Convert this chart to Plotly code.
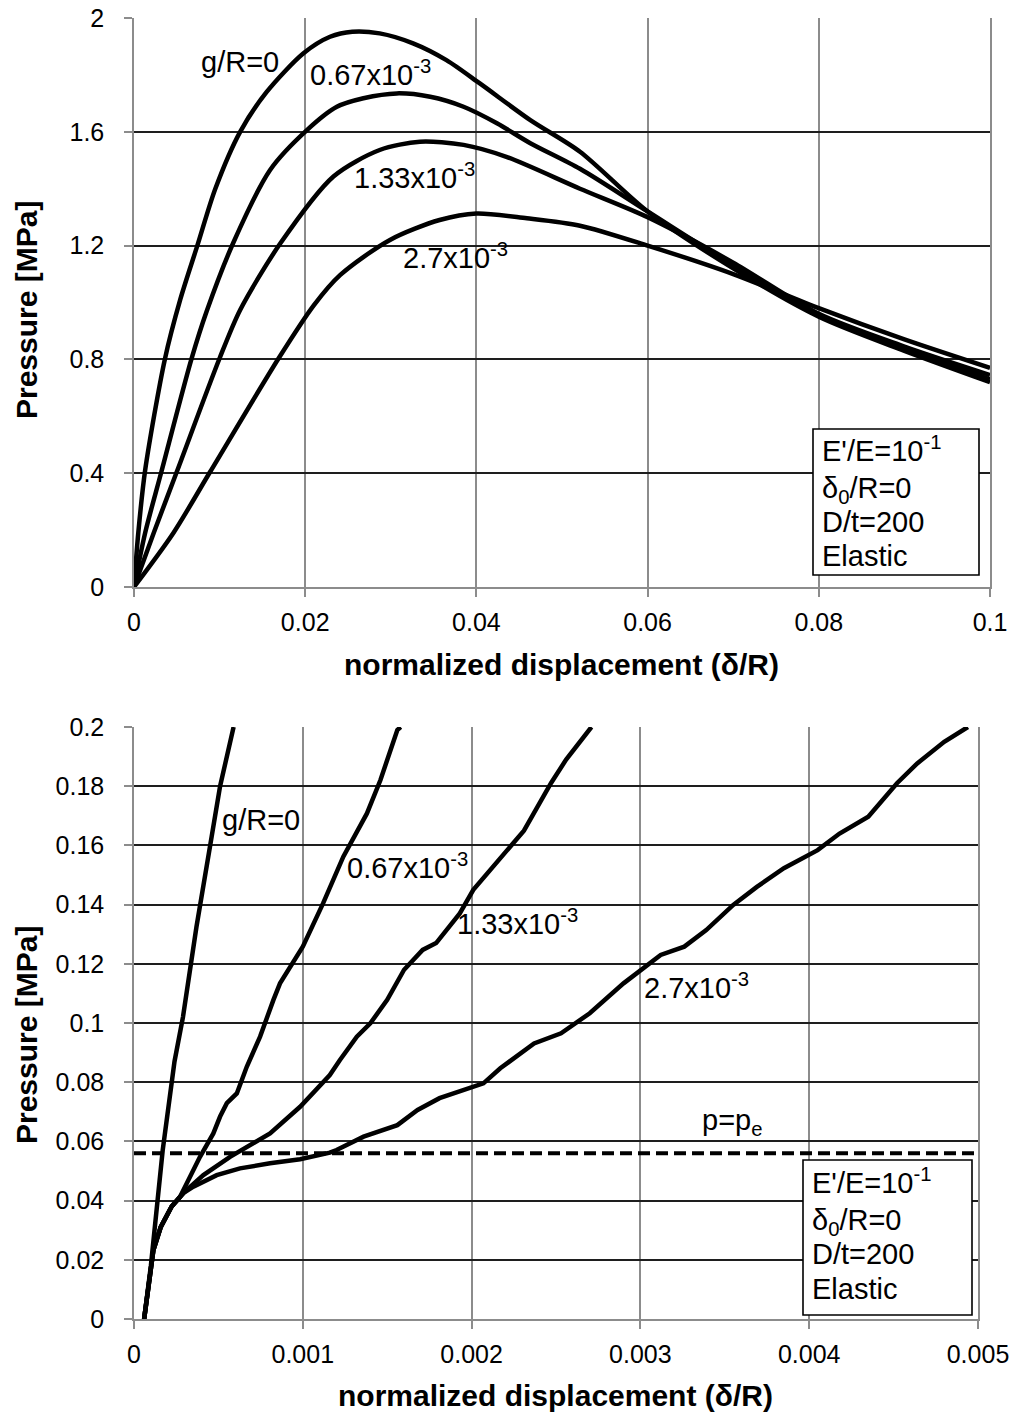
import plotly.graph_objects as go

# ---------------- data: top chart (0 .. 0.1) ----------------
top_g0_x = [0, 0.0005, 0.0013, 0.0036, 0.0054, 0.0074, 0.0095, 0.0124, 0.0155, 0.0198, 0.0229, 0.0255,
            0.0287, 0.0326, 0.0365, 0.0404, 0.0463, 0.0521, 0.060, 0.070, 0.080, 0.090, 0.100]
top_g0_y = [0, 0.19, 0.41, 0.80, 1.01, 1.20, 1.40, 1.60, 1.74, 1.876, 1.934, 1.952,
            1.946, 1.911, 1.852, 1.77, 1.641, 1.53, 1.32, 1.12, 0.95, 0.83, 0.72]

top_067_x = [0, 0.0013, 0.0032, 0.0067, 0.0085, 0.0116, 0.0159, 0.0202, 0.0237, 0.0268, 0.0307,
             0.0346, 0.0385, 0.0424, 0.0463, 0.0521, 0.060, 0.070, 0.080, 0.090, 0.100]
top_067_y = [0, 0.19, 0.405, 0.80, 0.97, 1.21, 1.466, 1.606, 1.688, 1.718, 1.735,
             1.723, 1.688, 1.63, 1.56, 1.47, 1.32, 1.13, 0.955, 0.84, 0.73]

top_133_x = [0, 0.0023, 0.0050, 0.0100, 0.0124, 0.0171, 0.0233, 0.0287, 0.0334, 0.0385, 0.0435,
             0.0521, 0.060, 0.070, 0.080, 0.090, 0.100]
top_133_y = [0, 0.19, 0.405, 0.804, 0.974, 1.208, 1.443, 1.536, 1.565, 1.554, 1.512,
             1.40, 1.30, 1.14, 0.96, 0.845, 0.745]

top_27_x = [0, 0.0046, 0.0089, 0.0169, 0.0210, 0.0241, 0.0299, 0.0357, 0.0400, 0.0459, 0.0521,
            0.060, 0.070, 0.080, 0.090, 0.100]
top_27_y = [0, 0.19, 0.405, 0.804, 0.99, 1.097, 1.22, 1.29, 1.313, 1.296, 1.27,
            1.20, 1.10, 0.98, 0.87, 0.77]

# ---------------- data: bottom chart (0 .. 0.005) ----------------
bot_g0_x = [0.00006, 0.00010, 0.00017, 0.00024, 0.00029, 0.00037, 0.00046, 0.00051, 0.00059]
bot_g0_y = [0.0, 0.018, 0.057, 0.087, 0.102, 0.1325, 0.163, 0.180, 0.200]

bot_067_x = [0.00006, 0.000085, 0.000115, 0.000158, 0.000223, 0.000273, 0.000391, 0.00047, 0.00051,
             0.00055, 0.000609, 0.000668, 0.000747, 0.000826, 0.000865, 0.0010, 0.00112, 0.00124,
             0.00138, 0.00146, 0.00156, 0.00158]
bot_067_y = [0, 0.012, 0.0233, 0.031, 0.038, 0.0413, 0.0548, 0.0627, 0.0684,
             0.0729, 0.0762, 0.0852, 0.0954, 0.1078, 0.1134, 0.1258, 0.1404, 0.1562,
             0.1708, 0.1821, 0.199, 0.2]

bot_133_x = [0.00006, 0.000085, 0.000115, 0.000158, 0.000223, 0.000292, 0.000411, 0.000569, 0.000806,
             0.000984, 0.00116, 0.00122, 0.00132, 0.0014, 0.0015, 0.0016, 0.00171, 0.00179, 0.00193,
             0.00201, 0.00231, 0.00247, 0.00256, 0.00271]
bot_133_y = [0, 0.012, 0.0233, 0.031, 0.038, 0.0425, 0.0486, 0.0548, 0.0627,
             0.0717, 0.0824, 0.0875, 0.0954, 0.0999, 0.1078, 0.118, 0.1247, 0.127, 0.137,
             0.145, 0.165, 0.181, 0.189, 0.2]

bot_27_x = [0.00006, 0.000085, 0.000115, 0.000158, 0.000223, 0.000292, 0.000352, 0.00049, 0.000628,
            0.000806, 0.000984, 0.00116, 0.0012, 0.00136, 0.00156, 0.00168, 0.00181, 0.00207,
            0.00217, 0.00237, 0.00253, 0.0027, 0.0029, 0.00312, 0.00326, 0.00339, 0.00355,
            0.00369, 0.00385, 0.00405, 0.00418, 0.00435, 0.00452, 0.00464, 0.0048, 0.00494]
bot_27_y = [0, 0.012, 0.0233, 0.031, 0.038, 0.0425, 0.0447, 0.0486, 0.0509,
            0.0526, 0.054, 0.0562, 0.0571, 0.0616, 0.0655, 0.0706, 0.0746, 0.0796,
            0.0847, 0.0931, 0.0965, 0.1033, 0.1134, 0.123, 0.1258, 0.1314, 0.1399,
            0.146, 0.1523, 0.1584, 0.164, 0.1697, 0.181, 0.1877, 0.195, 0.2]

p_e = 0.056
bot_x_span = [0, 0.005]

# ---------------- tick labels ----------------
top_x_ticks = [0, 0.02, 0.04, 0.06, 0.08, 0.1]
top_x_text = ["0", "0.02", "0.04", "0.06", "0.08", "0.1"]
top_y_ticks = [0, 0.4, 0.8, 1.2, 1.6, 2]
top_y_text = ["0", "0.4", "0.8", "1.2", "1.6", "2"]
bot_x_ticks = [0, 0.001, 0.002, 0.003, 0.004, 0.005]
bot_x_text = ["0", "0.001", "0.002", "0.003", "0.004", "0.005"]
bot_y_ticks = [0, 0.02, 0.04, 0.06, 0.08, 0.1, 0.12, 0.14, 0.16, 0.18, 0.2]
bot_y_text = ["0", "0.02", "0.04", "0.06", "0.08", "0.1", "0.12", "0.14", "0.16", "0.18", "0.2"]

top_labels = ["g/R=0", "0.67x10<sup>-3</sup>", "1.33x10<sup>-3</sup>", "2.7x10<sup>-3</sup>"]
top_label_x = [0.0124, 0.0276, 0.0328, 0.0375]
top_label_y = [1.846, 1.805, 1.445, 1.165]
bot_labels = ["g/R=0", "0.67x10<sup>-3</sup>", "1.33x10<sup>-3</sup>", "2.7x10<sup>-3</sup>"]
bot_label_x = [0.00051, 0.00125, 0.0019, 0.00301]
bot_label_y = [0.1686, 0.153, 0.134, 0.1125]
pe_label = "p=p<sub>e</sub>"
box_lines = ["E'/E=10<sup>-1</sup>", "δ<sub>0</sub>/R=0", "D/t=200", "Elastic"]

x_title = "<b>normalized displacement (δ/R)</b>"
y_title = "<b>Pressure [MPa]</b>"

FONT = "Liberation Sans, Arial, sans-serif"
OFF = 8                      # page body margin of the browser
FW, FH = 1018 - OFF, 1416 - OFF


def fx(px):
    return (px - OFF) / FW


def fy(py):
    return 1 - (py - OFF) / FH


fig = go.Figure()
line_top = dict(color="black", width=4.5, shape="spline", smoothing=0.8)
for xs, ys in [(top_g0_x, top_g0_y), (top_067_x, top_067_y), (top_133_x, top_133_y), (top_27_x, top_27_y)]:
    fig.add_trace(go.Scatter(x=xs, y=ys, mode="lines", line=line_top, xaxis="x", yaxis="y",
                             showlegend=False, hoverinfo="skip"))
line_bot = dict(color="black", width=4.5)
for xs, ys in [(bot_g0_x, bot_g0_y), (bot_067_x, bot_067_y), (bot_133_x, bot_133_y), (bot_27_x, bot_27_y)]:
    fig.add_trace(go.Scatter(x=xs, y=ys, mode="lines", line=line_bot, xaxis="x2", yaxis="y2",
                             showlegend=False, hoverinfo="skip"))
fig.add_trace(go.Scatter(x=bot_x_span, y=[p_e, p_e], mode="lines",
                         line=dict(color="black", width=3.8, dash="12px,6px"),
                         xaxis="x2", yaxis="y2", showlegend=False, hoverinfo="skip"))

GRAY = "#8c8c8c"
DARK = "#1e1e1e"
common = dict(showline=True, linecolor=GRAY, linewidth=1.5, ticks="outside", ticklen=8,
              tickcolor=GRAY, tickwidth=1.5, zeroline=False, showgrid=True, gridwidth=1.5,
              tickfont=dict(family=FONT, size=25, color="black"), fixedrange=True,
              automargin=False, tickmode="array", ticklabeloverflow="allow")

fig.update_layout(
    width=FW, height=FH, margin=dict(l=0, r=0, t=0, b=0, autoexpand=False),
    paper_bgcolor="white", plot_bgcolor="white",
    xaxis=dict(domain=[fx(134), fx(990)], range=[0, 0.1], tickvals=top_x_ticks, ticktext=top_x_text,
               gridcolor=GRAY, anchor="y", ticklabelstandoff=4, **common),
    yaxis=dict(domain=[fy(587), fy(18)], range=[0, 2], tickvals=top_y_ticks, ticktext=top_y_text,
               gridcolor=DARK, anchor="x", mirror=True, ticklabelstandoff=15, **common),
    xaxis2=dict(domain=[fx(134), fx(978)], range=[0, 0.005], tickvals=bot_x_ticks, ticktext=bot_x_text,
                gridcolor=GRAY, anchor="y2", ticklabelstandoff=4, **common),
    yaxis2=dict(domain=[fy(1319), fy(727)], range=[0, 0.2], tickvals=bot_y_ticks, ticktext=bot_y_text,
                gridcolor=DARK, anchor="x2", mirror=True, ticklabelstandoff=15, **common),
)

ann = []
lf = dict(family=FONT, size=29, color="black")
for t, x, y in zip(top_labels, top_label_x, top_label_y):
    ann.append(dict(text=t, x=x, y=y, xref="x", yref="y", showarrow=False, font=lf,
                    xanchor="center", yanchor="middle"))
for t, x, y in zip(bot_labels, bot_label_x, bot_label_y):
    ann.append(dict(text=t, x=x, y=y, xref="x2", yref="y2", showarrow=False, font=lf,
                    xanchor="left", yanchor="middle"))
ann.append(dict(text=pe_label, x=0.00354, y=0.0665, xref="x2", yref="y2", showarrow=False,
                font=lf, xanchor="center", yanchor="middle"))

# parameter boxes (frame + one text line each)
shapes = []
boxes = [((813, 979, 429, 575), 820, [452, 487, 521.5, 556]),
         ((803, 972, 1160, 1315), 810, [1184, 1219, 1254, 1289])]
shift = [-3, 3, 0, 0]
for (bx0, bx1, by0, by1), tx, rows in boxes:
    shapes.append(dict(type="rect", xref="paper", yref="paper", x0=fx(bx0), x1=fx(bx1),
                       y0=fy(by1), y1=fy(by0), fillcolor="white",
                       line=dict(color="black", width=1.6), layer="above"))
    for t, r, s in zip(box_lines, rows, shift):
        ann.append(dict(text=t, x=fx(tx), y=fy(r + s), xref="paper", yref="paper",
                        showarrow=False, font=lf, xanchor="left", yanchor="middle"))

tf = dict(family=FONT, size=30, color="black")
ann.append(dict(text=x_title, x=fx(561), y=fy(665), xref="paper", yref="paper",
                showarrow=False, font=tf, xanchor="center", yanchor="middle"))
ann.append(dict(text=x_title, x=fx(555), y=fy(1395), xref="paper", yref="paper",
                showarrow=False, font=tf, xanchor="center", yanchor="middle"))
ann.append(dict(text=y_title, x=fx(26), y=fy(310), xref="paper", yref="paper",
                showarrow=False, font=tf, textangle=-90, xanchor="center", yanchor="middle"))
ann.append(dict(text=y_title, x=fx(26), y=fy(1035), xref="paper", yref="paper",
                showarrow=False, font=tf, textangle=-90, xanchor="center", yanchor="middle"))
fig.update_layout(annotations=ann, shapes=shapes)

fig.write_html("out.html")
